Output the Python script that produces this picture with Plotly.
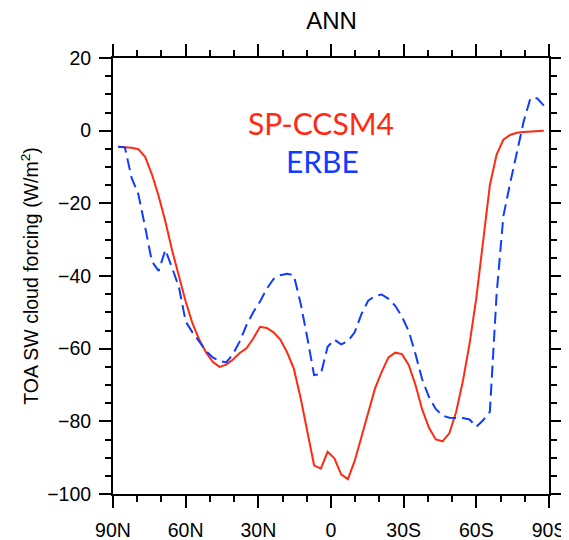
import plotly.graph_objects as go

# T42 Gaussian latitudes (N positive)
lat = [87.86, 85.10, 82.31, 79.53, 76.74, 73.95, 71.16, 68.37, 65.58, 62.79,
       60.00, 57.21, 54.42, 51.63, 48.84, 46.04, 43.25, 40.46, 37.67, 34.88,
       32.09, 29.30, 26.51, 23.72, 20.93, 18.14, 15.35, 12.56, 9.77, 6.98,
       4.19, 1.40, -1.40, -4.19, -6.98, -9.77, -12.56, -15.35, -18.14, -20.93,
       -23.72, -26.51, -29.30, -32.09, -34.88, -37.67, -40.46, -43.25, -46.04, -48.84,
       -51.63, -54.42, -57.21, -60.00, -62.79, -65.58, -68.37, -71.16, -73.95, -76.74,
       -79.53, -82.31, -85.10, -87.86]

sp_ccsm4 = [-4.4, -4.5, -4.7, -5.1, -7.2, -12.0, -18.0, -25.0, -33.0, -40.0,
            -47.0, -53.0, -57.5, -61.0, -63.6, -65.0, -64.4, -63.0, -61.2, -59.9,
            -57.2, -54.0, -54.3, -55.5, -57.5, -61.0, -65.5, -73.5, -83.0, -92.1,
            -93.0, -88.4, -90.2, -94.6, -95.9, -90.9, -84.3, -77.5, -71.0, -66.4,
            -62.4, -61.1, -61.5, -64.5, -70.0, -76.8, -81.8, -85.0, -85.5, -83.3,
            -77.5, -69.0, -58.6, -46.0, -30.0, -15.0, -6.6, -2.5, -1.2, -0.6,
            -0.4, -0.2, -0.1, 0.0]

erbe = [-4.4, -4.6, -13.0, -17.5, -26.5, -36.0, -38.6, -32.8, -37.8, -43.0,
        -52.5, -55.5, -58.0, -60.6, -62.4, -63.4, -63.8, -61.5, -58.0, -53.5,
        -50.0, -47.0, -43.5, -40.8, -39.8, -39.4, -39.8, -47.5, -57.0, -67.3,
        -67.0, -59.5, -57.5, -58.8, -57.9, -55.5, -50.5, -46.8, -45.5, -45.1,
        -46.3, -48.2, -51.2, -55.2, -61.5, -68.5, -73.3, -76.6, -78.4, -79.0,
        -79.1, -79.1, -79.5, -81.5, -79.7, -77.4, -45.0, -23.5, -14.5, -5.5,
        2.5, 8.9, 8.9, 6.9]

x_tickvals = [90, 60, 30, 0, -30, -60, -90]
x_ticktext = ["90N", "60N", "30N", "0", "30S", "60S", "90S"]
y_tickvals = [20, 0, -20, -40, -60, -80, -100]

RED = "#ff2a12"
BLUE = "#0f3cff"
FONT = "Liberation Sans, Arial, sans-serif"

# the page body adds an 8px margin; figure is sized to fit the window
W, H = 561, 532

fig = go.Figure()
fig.add_trace(go.Scatter(x=lat, y=sp_ccsm4, mode="lines", name="SP-CCSM4",
                         line=dict(color=RED, width=2)))
fig.add_trace(go.Scatter(x=lat, y=erbe, mode="lines", name="ERBE",
                         line=dict(color=BLUE, width=2, dash="12px,6px")))

axis_common = dict(
    showline=True, linecolor="black", linewidth=2, mirror="allticks",
    ticks="outside", ticklen=12, tickwidth=2, tickcolor="black",
    showgrid=False, zeroline=False, automargin=False,
    tickfont=dict(family=FONT, size=19.5, color="black"),
)

fig.update_xaxes(range=[90, -90], tickvals=x_tickvals, ticktext=x_ticktext,
                 minor=dict(dtick=10, tick0=0, ticks="outside", ticklen=6,
                            tickwidth=1.5, tickcolor="black", showgrid=False),
                 ticklabelstandoff=6,
                 **axis_common)
fig.update_yaxes(range=[-100, 20], tickvals=y_tickvals,
                 minor=dict(dtick=5, tick0=0, ticks="outside", ticklen=6,
                            tickwidth=1.5, tickcolor="black", showgrid=False),
                 title=dict(text="TOA SW cloud forcing (W/m<sup>2</sup>)",
                            font=dict(family=FONT, size=19.5, color="black"),
                            standoff=3),
                 ticklabelstandoff=4,
                 **axis_common)

fig.add_annotation(text="SP-CCSM4", xref="paper", yref="paper", x=0.478, y=0.851,
                   showarrow=False, xanchor="center", yanchor="middle",
                   font=dict(family="Lato, sans-serif", size=30, color=RED))
fig.add_annotation(text="ERBE", xref="paper", yref="paper", x=0.481, y=0.763,
                   showarrow=False, xanchor="center", yanchor="middle",
                   font=dict(family="Lato, sans-serif", size=30, color=BLUE))

fig.update_layout(
    width=W, height=H,
    margin=dict(l=105, r=20, t=50, b=46, autoexpand=False),
    paper_bgcolor="white", plot_bgcolor="white",
    showlegend=False,
    title=dict(text="ANN", x=(331.5 - 8) / W, xanchor="center", y=1 - (20.5 - 8) / H, yanchor="middle",
               font=dict(family=FONT, size=24, color="black")),
)

fig.write_html("out.html")
